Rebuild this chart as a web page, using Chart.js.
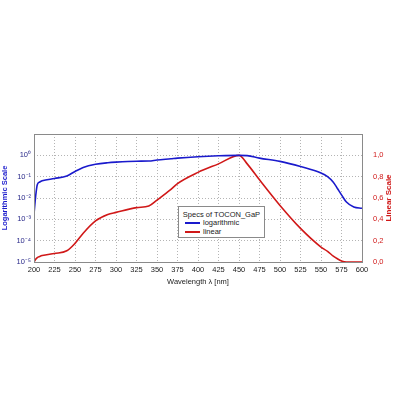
<!DOCTYPE html>
<html>
<head>
<meta charset="utf-8">
<script src="https://cdn.jsdelivr.net/npm/chart.js@4"></script>
<style>
  html, body { margin: 0; padding: 0; background: #fff; }
  #wrap { position: relative; width: 400px; height: 400px; }
  #legend {
    position: absolute; left: 178px; top: 206px; width: 87px; height: 32px;
    background: #fff; border: 1px solid #8a8a8a; box-sizing: border-box;
    font: 7.5px "Liberation Sans", Arial, sans-serif; color: #222;
  }
  #legend .title { position: absolute; left: 0; right: 0; top: 3px; text-align: center; }
  #legend .row { position: absolute; left: 6px; height: 9px; line-height: 9px; }
  #legend .sw { display: inline-block; width: 15px; height: 0; border-top: 2px solid; vertical-align: middle; margin-right: 3px; }
</style>
</head>
<body>
<div id="wrap">
  <canvas id="chart" width="400" height="400"></canvas>
  <div id="legend">
    <div class="title">Specs of TOCON_GaP</div>
    <div class="row" style="top:11px"><span class="sw" style="border-color:#1a1acc"></span>logarithmic</div>
    <div class="row" style="top:20px"><span class="sw" style="border-color:#d01818"></span>linear</div>
  </div>
</div>
<script>
// Specs of TOCON_GaP — spectral response, log and linear view
const wavelengths = [200, 202, 204, 207, 210, 225, 240, 250, 260, 275, 290, 300, 325, 340, 350, 367,
                     375, 400, 425, 450, 460, 475, 500, 525, 550, 558, 565, 570, 575, 581, 590, 600];
const logValues = [0.0018, 0.012, 0.042, 0.056, 0.064, 0.082, 0.108, 0.175, 0.27, 0.38, 0.45, 0.48,
                   0.53, 0.54, 0.6, 0.69, 0.74, 0.86, 0.95, 1.0, 0.97, 0.74, 0.52, 0.3, 0.15, 0.1,
                   0.055, 0.028, 0.014, 0.0065, 0.0038, 0.0033];
const linValues = [0.0, 0.025, 0.042, 0.052, 0.06, 0.08, 0.105, 0.175, 0.27, 0.385, 0.445, 0.465,
                   0.51, 0.525, 0.58, 0.68, 0.735, 0.84, 0.92, 1.0, 0.92, 0.77, 0.53, 0.315, 0.14, 0.1,
                   0.055, 0.03, 0.01, 0.0, 0.0, 0.0];

const logTicks  = [1e-5, 1e-4, 1e-3, 1e-2, 1e-1, 1e0];
const logLabels = ['10⁻⁵', '10⁻⁴', '10⁻³', '10⁻²', '10⁻¹', '10⁰'];
const linLabels = ['0,0', '0,2', '0,4', '0,6', '0,8', '1,0'];

const BLUE = '#1a1acc';
const RED  = '#d01818';
const FONT = '"Liberation Sans", Arial, sans-serif';
const GRID = { color: '#b4b4b4', lineWidth: 1, drawTicks: false };
const DOTTED = { display: false, dash: [1, 2] };

// plot frame + right-hand title reading bottom to top
const frame = {
  id: 'frame',
  afterDraw(chart) {
    const a = chart.chartArea, c = chart.ctx;
    c.save();
    c.strokeStyle = '#8a8a8a';
    c.lineWidth = 1;
    c.strokeRect(Math.round(a.left) + 0.5, Math.round(a.top) + 0.5,
                 Math.round(a.right - a.left), Math.round(a.bottom - a.top));
    c.translate(389, (a.top + a.bottom) / 2);
    c.rotate(-Math.PI / 2);
    c.fillStyle = RED;
    c.font = 'bold 8px ' + FONT;
    c.textAlign = 'center';
    c.textBaseline = 'middle';
    c.fillText('Linear Scale', 0, 0);
    c.restore();
  },
};

new Chart(document.getElementById('chart').getContext('2d'), {
  type: 'line',
  data: {
    datasets: [
      {
        label: 'logarithmic',
        data: wavelengths.map((w, i) => ({ x: w, y: logValues[i] })),
        borderColor: BLUE, borderWidth: 1.6, pointRadius: 0,
        cubicInterpolationMode: 'monotone', yAxisID: 'yLog',
      },
      {
        label: 'linear',
        data: wavelengths.map((w, i) => ({ x: w, y: linValues[i] })),
        borderColor: RED, borderWidth: 1.6, pointRadius: 0,
        cubicInterpolationMode: 'monotone', yAxisID: 'yLin',
      },
    ],
  },
  options: {
    responsive: false,
    animation: false,
    layout: { padding: { top: 134, bottom: 114, left: 0, right: 0 } },
    plugins: { legend: { display: false }, tooltip: { enabled: false } },
    scales: {
      x: {
        type: 'linear', min: 200, max: 600,
        afterFit: s => { s.height = 24; },
        ticks: { stepSize: 25, padding: 3, color: '#222', font: { size: 7.5, family: FONT } },
        grid: GRID,
        border: DOTTED,
        title: { display: true, text: 'Wavelength λ [nm]', color: '#222', padding: 0,
                 font: { size: 7.5, family: FONT } },
      },
      yLog: {
        type: 'logarithmic', position: 'left', min: 1e-5, max: 10,
        afterFit: s => { s.width = 34; },
        afterBuildTicks: s => { s.ticks = logTicks.map(v => ({ value: v })); },
        ticks: {
          padding: 3, color: '#2a2a8a', font: { size: 7.5, family: FONT },
          callback: v => logLabels[logTicks.findIndex(t => Math.abs(Math.log10(t) - Math.log10(v)) < 1e-6)] ?? '',
        },
        grid: GRID,
        border: DOTTED,
        title: { display: true, text: 'Logarithmic Scale', color: BLUE, padding: 0,
                 font: { size: 7.5, weight: 'bold', family: FONT } },
      },
      yLin: {
        type: 'linear', position: 'right', min: 0, max: 1.2,
        afterFit: s => { s.width = 38; },
        ticks: {
          stepSize: 0.2, padding: 3, color: RED, font: { size: 7.5, family: FONT },
          callback: (v, i) => linLabels[i] ?? '',
        },
        grid: { display: false },
        border: { display: false },
      },
    },
  },
  plugins: [frame],
});
</script>
</body>
</html>
